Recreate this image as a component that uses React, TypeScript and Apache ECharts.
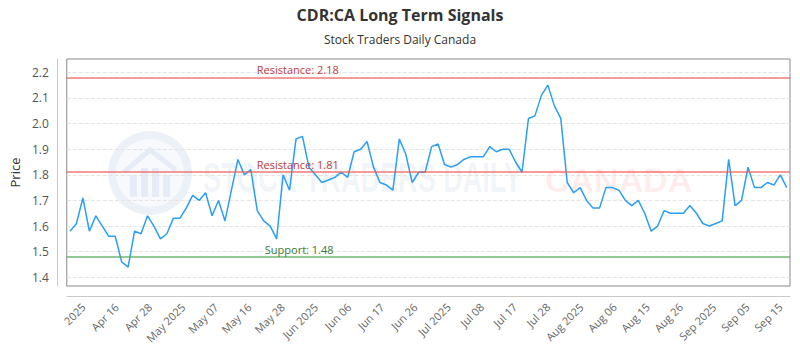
import React, { useEffect, useRef } from "react";
import * as echarts from "echarts";

const titleText = "CDR:CA Long Term Signals";
const subtitleText = "Stock Traders Daily Canada";
const yAxisName = "Price";

const tickLabels = [
  "2025", "Apr 16", "Apr 28", "May 2025", "May 07", "May 16", "May 28",
  "Jun 2025", "Jun 06", "Jun 17", "Jun 26", "Jul 2025", "Jul 08", "Jul 17",
  "Jul 28", "Aug 2025", "Aug 06", "Aug 15", "Aug 26", "Sep 2025", "Sep 05", "Sep 15",
];

const prices = [
  1.58, 1.61, 1.71, 1.58, 1.64, 1.6, 1.56, 1.56, 1.46, 1.44,
  1.58, 1.57, 1.64, 1.6, 1.55, 1.57, 1.63, 1.63, 1.67, 1.72,
  1.7, 1.73, 1.64, 1.7, 1.62, 1.74, 1.86, 1.8, 1.82, 1.66,
  1.62, 1.6, 1.55, 1.8, 1.74, 1.94, 1.95, 1.83, 1.8, 1.77,
  1.78, 1.79, 1.81, 1.79, 1.89, 1.9, 1.93, 1.83, 1.77, 1.76,
  1.74, 1.94, 1.88, 1.77, 1.81, 1.81, 1.91, 1.92, 1.84, 1.83,
  1.84, 1.86, 1.87, 1.87, 1.87, 1.91, 1.89, 1.9, 1.9, 1.85,
  1.81, 2.02, 2.03, 2.11, 2.15, 2.07, 2.02, 1.77, 1.73, 1.75,
  1.7, 1.67, 1.67, 1.75, 1.75, 1.74, 1.7, 1.68, 1.7, 1.65,
  1.58, 1.6, 1.66, 1.65, 1.65, 1.65, 1.68, 1.65, 1.61, 1.6,
  1.61, 1.62, 1.86, 1.68, 1.7, 1.83, 1.75, 1.75, 1.77, 1.76,
  1.8, 1.75,
];

const yTicks = [1.4, 1.5, 1.6, 1.7, 1.8, 1.9, 2.0, 2.1, 2.2];
const resistanceLevels = [2.18, 1.81];
const supportLevels = [1.48];

const FONT = "'Open Sans', 'Noto Sans', sans-serif";

export default function App() {
  const ref = useRef<HTMLDivElement>(null);

  useEffect(() => {
    if (!ref.current) return;
    const chart = echarts.init(ref.current, undefined, { renderer: "svg" });

    const markData: any[] = [
      ...resistanceLevels.map((v) => ({
        yAxis: v,
        lineStyle: { color: "rgba(238,90,85,0.6)", width: 2, type: "solid" },
        label: {
          show: true,
          position: "insideStartTop",
          distance: [190, 2],
          formatter: "Resistance: " + v.toFixed(2),
          color: "#b8413a",
          fontSize: 11,
          fontFamily: FONT,
        },
      })),
      ...supportLevels.map((v) => ({
        yAxis: v,
        lineStyle: { color: "rgba(90,170,90,0.65)", width: 2, type: "solid" },
        label: {
          show: true,
          position: "insideStartTop",
          distance: [198, 2],
          formatter: "Support: " + v.toFixed(2),
          color: "#3a7a3a",
          fontSize: 11,
          fontFamily: FONT,
        },
      })),
    ];

    const wm = "rgba(40,90,170,0.08)";
    chart.setOption({
      animation: false,
      textStyle: { fontFamily: FONT },
      title: {
        left: "center",
        top: 2,
        text: titleText,
        subtext: subtitleText,
        itemGap: 10,
        textStyle: { fontSize: 16, fontWeight: "bold", color: "#333", fontFamily: FONT },
        subtextStyle: { fontSize: 12, color: "#333", fontFamily: FONT },
      },
      graphic: [
        { type: "ring", z: 0, shape: { cx: 150, cy: 173, r: 42, r0: 34 }, style: { fill: "rgba(40,90,170,0.09)" } },
        { type: "circle", z: 0, shape: { cx: 150, cy: 173, r: 34 }, style: { fill: "rgba(40,90,170,0.04)" } },
        { type: "polyline", z: 0, shape: { points: [[124, 172], [150, 150], [176, 170]] }, style: { stroke: wm, lineWidth: 5, fill: "none" } },
        { type: "rect", z: 0, shape: { x: 130, y: 175, width: 7, height: 22 }, style: { fill: wm } },
        { type: "rect", z: 0, shape: { x: 141, y: 168, width: 7, height: 29 }, style: { fill: wm } },
        { type: "rect", z: 0, shape: { x: 152, y: 168, width: 7, height: 29 }, style: { fill: wm } },
        { type: "rect", z: 0, shape: { x: 163, y: 175, width: 7, height: 22 }, style: { fill: wm } },
        {
          type: "text", z: 0, x: 203, y: 177, scaleX: 0.645,
          style: { text: "STOCK TRADERS DAILY", font: "bold 42px 'Liberation Sans', sans-serif", fill: wm, verticalAlign: "middle", align: "left" },
        },
        {
          type: "text", z: 0, x: 545, y: 180,
          style: { text: "CANADA", font: "bold 34px 'Liberation Sans', sans-serif", fill: "rgba(255,60,60,0.09)", verticalAlign: "middle", align: "left" },
        },
      ],
      grid: {
        left: 63, right: 10, top: 59, bottom: 64,
        show: true, borderColor: "#888", borderWidth: 1, containLabel: false,
      },
      xAxis: [
        {
          type: "category",
          data: prices.map((_, i) => String(i)),
          boundaryGap: true,
          show: false,
        },
        {
          type: "value",
          min: -0.5,
          max: 21.29,
          position: "bottom",
          offset: 10,
          axisLine: { show: true, onZero: false, lineStyle: { color: "#c8c8c8" } },
          axisTick: { show: false },
          splitLine: { show: false },
          axisLabel: {
            customValues: tickLabels.map((_, i) => i),
            formatter: (v: number) => tickLabels[Math.round(v)] ?? "",
            rotate: 45,
            fontSize: 11,
            color: "#666",
            margin: 9,
            fontFamily: FONT,
          },
        },
      ],
      yAxis: {
        type: "value",
        min: 1.366,
        max: 2.252,
        offset: 10,
        name: yAxisName,
        nameLocation: "middle",
        nameGap: 32,
        nameTextStyle: { fontSize: 13, color: "#333", fontFamily: FONT },
        axisLine: { show: true, onZero: false, lineStyle: { color: "#c8c8c8" } },
        axisTick: { show: false, customValues: yTicks },
        axisLabel: {
          customValues: yTicks,
          formatter: (v: number) => v.toFixed(1),
          color: "#555",
          fontSize: 12,
          margin: 8,
          fontFamily: FONT,
        },
        splitLine: { show: true, lineStyle: { type: "dashed", color: "#e4e4e4" } },
      },
      series: [
        {
          type: "line",
          data: prices,
          xAxisIndex: 0,
          symbol: "none",
          showSymbol: false,
          z: 3,
          lineStyle: { color: "#2b9ef5", width: 1.5 },
          markLine: { symbol: "none", silent: true, data: markData },
        },
      ],
    });

    return () => chart.dispose();
  }, []);

  return <div ref={ref} style={{ width: 800, height: 350, marginLeft: -8, marginTop: -8 }} />;
}
